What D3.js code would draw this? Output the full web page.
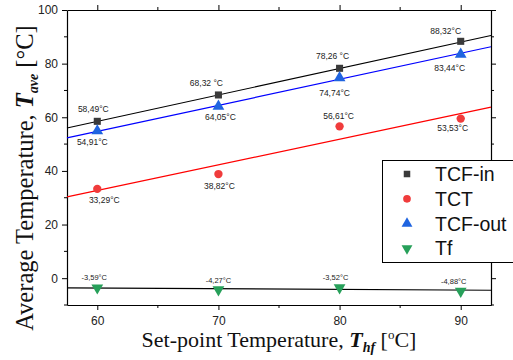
<!DOCTYPE html>
<html>
<head>
<meta charset="utf-8">
<script src="https://cdn.jsdelivr.net/npm/d3@7"></script>
<style>
  body { margin: 0; background: #fff; }
  svg { display: block; }
</style>
</head>
<body>
<svg id="chart" width="513" height="360"></svg>
<script>
// set-point temperatures
const setPoints = [60, 70, 80, 90];

// measured averages (as plotted)
const tcfIn = [58.49, 68.32, 78.26, 88.32];
const tct = [33.29, 38.82, 56.61, 59.5];
const tcfOut = [54.91, 64.05, 74.74, 83.44];
const tf = [-3.59, -4.27, -3.52, -4.88];

// point labels, as written on the figure
const tcfInLabels = ["58,49°C", "68,32 °C", "78,26 °C", "88,32°C"];
const tctLabels = ["33,29°C", "38,82°C", "56,61°C", "53,53°C"];
const tcfOutLabels = ["54,91°C", "64,05°C", "74,74°C", "83,44°C"];
const tfLabels = ["-3,59°C", "-4,27°C", "-3,52°C", "-4,88°C"];

// fitted lines, value at left and right end of the x range
const fitLeft = [56.0, 30.3, 52.3, -3.6];
const fitRight = [90.5, 63.8, 86.3, -4.5];

const xTicks = [60, 70, 80, 90];
const yTicks = [0, 20, 40, 60, 80, 100];

const seriesNames = ["TCF-in", "TCT", "TCF-out", "Tf"];

// label offsets (px) from each point
const labelShift = [
    [[-4, -9], [-12, -9], [-7, -9.5], [-15, -7]],
    [[7, 14], [1, 14.5], [-1, -7], [-8, 12.5]],
    [[-5, 14], [2, 14], [-5, 18], [-11, 17]],
    [[-3, -7.5], [0, -7], [-4, -7.5], [-7, -7.5]]
];

const svg = d3.select("#chart");
const pLeft = 67, pRight = 491, pTop = 10, pBottom = 305;

const x = d3.scaleLinear().domain([57.5, 92.5]).range([pLeft, pRight]);
const y = d3.scaleLinear().domain([-10, 100]).range([pBottom, pTop]);

const colors = ["#3a3a3a", "#f03c3c", "#1f64e0", "#27a05a"];
const lineColors = ["#000", "#ff0000", "#0000ff", "#000"];
const shapes = [d3.symbolSquare, d3.symbolCircle, d3.symbolTriangle, d3.symbolTriangle];
const sizes = [50, 55, 60, 60];
const allSeries = [tcfIn, tct, tcfOut, tf];
const allLabels = [tcfInLabels, tctLabels, tcfOutLabels, tfLabels];

// axes
const font = "'Liberation Sans', Arial, sans-serif";
function styleAxis(g) {
    g.selectAll("path").attr("stroke", "#000").attr("stroke-width", 1.2);
    g.selectAll("line").attr("stroke", "#000").attr("stroke-width", 1);
    g.selectAll("text").attr("font-family", font).attr("font-size", 12).attr("fill", "#222");
}
const minorX = d3.range(65, 92, 10);
const minorY = d3.range(-10, 100, 20);

svg.append("g").attr("transform", `translate(0,${pBottom})`)
    .call(d3.axisBottom(x).tickValues(xTicks).tickSize(5).tickSizeOuter(0).tickPadding(6))
    .call(styleAxis);
svg.append("g").attr("transform", `translate(0,${pTop})`)
    .call(d3.axisTop(x).tickValues(xTicks).tickSize(5).tickSizeOuter(0).tickFormat(""))
    .call(styleAxis);
svg.append("g").attr("transform", `translate(${pLeft},0)`)
    .call(d3.axisLeft(y).tickValues(yTicks).tickSize(5).tickSizeOuter(0).tickPadding(4))
    .call(styleAxis);
svg.append("g").attr("transform", `translate(${pRight},0)`)
    .call(d3.axisRight(y).tickValues(yTicks).tickSize(5).tickSizeOuter(0).tickFormat(""))
    .call(styleAxis);

// minor ticks
svg.append("g").selectAll("line").data(minorX).join("line")
    .attr("x1", d => x(d)).attr("x2", d => x(d)).attr("y1", pBottom).attr("y2", pBottom + 3)
    .attr("stroke", "#000");
svg.append("g").selectAll("line").data(minorX).join("line")
    .attr("x1", d => x(d)).attr("x2", d => x(d)).attr("y1", pTop).attr("y2", pTop - 3)
    .attr("stroke", "#000");
svg.append("g").selectAll("line").data(minorY).join("line")
    .attr("x1", pLeft).attr("x2", pLeft - 3).attr("y1", d => y(d)).attr("y2", d => y(d))
    .attr("stroke", "#000");
svg.append("g").selectAll("line").data(minorY).join("line")
    .attr("x1", pRight).attr("x2", pRight + 3).attr("y1", d => y(d)).attr("y2", d => y(d))
    .attr("stroke", "#000");

// fit lines
const xd = x.domain();
svg.append("g").selectAll("line").data(seriesNames).join("line")
    .attr("x1", x(xd[0])).attr("x2", x(xd[1]))
    .attr("y1", (d, i) => y(fitLeft[i])).attr("y2", (d, i) => y(fitRight[i]))
    .attr("stroke", (d, i) => lineColors[i]).attr("stroke-width", 1.2);

// points + labels
allSeries.forEach((vals, s) => {
    const g = svg.append("g");
    g.selectAll("path").data(vals).join("path")
        .attr("d", d3.symbol().type(shapes[s]).size(sizes[s]))
        .attr("transform", (d, i) => `translate(${x(setPoints[i])},${y(d)})` + (s === 3 ? " rotate(180)" : ""))
        .attr("fill", colors[s]);
    g.selectAll("text").data(vals).join("text")
        .attr("x", (d, i) => x(setPoints[i]) + labelShift[s][i][0])
        .attr("y", (d, i) => y(d) + labelShift[s][i][1])
        .attr("text-anchor", "middle")
        .attr("font-family", font)
        .attr("font-size", s === 3 ? 7.5 : 8.5)
        .attr("fill", "#222")
        .text((d, i) => allLabels[s][i]);
});

// legend
const lg = svg.append("g");
lg.append("rect").attr("x", 382.5).attr("y", 160.5).attr("width", 140).attr("height", 102)
    .attr("fill", "#fff").attr("stroke", "#000").attr("stroke-width", 1);
seriesNames.forEach((name, s) => {
    const cy = 174 + s * 24.8;
    lg.append("path")
        .attr("d", d3.symbol().type(shapes[s]).size(sizes[s] * 0.85))
        .attr("transform", `translate(407,${cy})` + (s === 3 ? " rotate(180)" : ""))
        .attr("fill", colors[s]);
    lg.append("text").attr("x", 435).attr("y", cy + 7)
        .attr("font-family", font).attr("font-size", 19.5).attr("fill", "#111")
        .text(name);
});

// axis titles
const serif = "'Liberation Serif', 'Times New Roman', serif";
const xt = svg.append("text").attr("x", 279).attr("y", 347)
    .attr("text-anchor", "middle").attr("font-family", serif).attr("font-size", 22).attr("fill", "#111");
xt.append("tspan").text("Set-point Temperature, ");
xt.append("tspan").attr("font-weight", "bold").attr("font-style", "italic").text("T");
xt.append("tspan").attr("font-weight", "bold").attr("font-style", "italic").attr("font-size", 14).attr("dy", 5).text("hf");
xt.append("tspan").attr("dy", -5).text(" [");
xt.append("tspan").attr("font-size", 13).attr("dy", -8).text("o");
xt.append("tspan").attr("dy", 8).text("C]");

const yt = svg.append("text").attr("transform", "translate(33,178) rotate(-90)")
    .attr("text-anchor", "middle").attr("font-family", serif).attr("font-size", 24.5).attr("fill", "#111");
yt.append("tspan").text("Average Temperature, ");
yt.append("tspan").attr("font-weight", "bold").attr("font-style", "italic").text("T");
yt.append("tspan").attr("font-weight", "bold").attr("font-style", "italic").attr("font-size", 14).attr("dy", 5).text("ave");
yt.append("tspan").attr("dy", -5).text(" [");
yt.append("tspan").attr("dy", 0).text("°C]");
</script>
</body>
</html>
